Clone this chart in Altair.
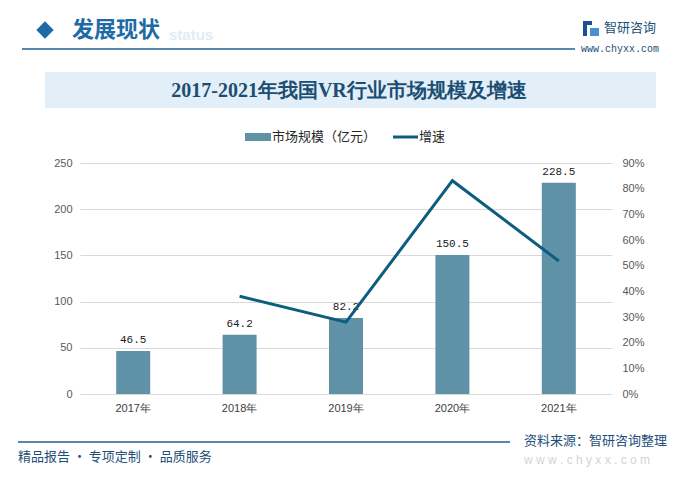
import altair as alt
import pandas as pd

years = ["2017年", "2018年", "2019年", "2020年", "2021年"]
market = [46.5, 64.2, 82.2, 150.5, 228.5]
growth = [None, 0.381, 0.280, 0.831, 0.518]
left_ticks = [0, 50, 100, 150, 200, 250]
right_ticks = [0, 0.1, 0.2, 0.3, 0.4, 0.5, 0.6, 0.7, 0.8, 0.9]

df = pd.DataFrame({"year": years, "market": market, "growth": growth})
df_line = df.dropna()

OX, OY = 80, 163  # plot origin on page
one = pd.DataFrame({"a": [0]})

def px(x):
    return alt.value(x - OX)

def py(y):
    return alt.value(y - OY)

xenc = alt.X("year:N", sort=years, title=None,
             scale=alt.Scale(paddingInner=0.0, paddingOuter=0.0),
             axis=alt.Axis(labelAngle=0, domain=False, ticks=False, labelPadding=8,
                           labelFont="Liberation Sans", labelFontSize=11, labelColor="#404040"))

yleft = alt.Y("market:Q", title=None,
              scale=alt.Scale(domain=[0, 250]),
              axis=alt.Axis(values=left_ticks, domain=False, ticks=False, labelPadding=8,
                            grid=True, gridColor="#d9d9d9", gridWidth=1,
                            labelFont="Liberation Sans", labelFontSize=11, labelColor="#595959"))

bars = alt.Chart(df).mark_bar(size=34, color="#5f91a7").encode(x=xenc, y=yleft)
labels = alt.Chart(df).mark_text(baseline="bottom", dy=-6, font="Liberation Mono",
                                 fontSize=11, color="#1a1a1a").encode(
    x=xenc, y=yleft, text=alt.Text("market:Q", format=".1f"))
left = alt.layer(bars, labels)

line = alt.Chart(df_line).mark_line(color="#0c5d7e", strokeWidth=3).encode(
    x=xenc,
    y=alt.Y("growth:Q", title=None, scale=alt.Scale(domain=[0, 0.9]),
            axis=alt.Axis(orient="right", values=right_ticks, format=".0%", domain=False,
                          ticks=False, grid=False, labelPadding=10,
                          labelFont="Liberation Sans", labelFontSize=11, labelColor="#595959")))

# decorations
band = alt.Chart(one).mark_rect(color="#e2eff8").encode(
    x=px(45), x2=px(656), y=py(72), y2=py(108))
title = alt.Chart(one).mark_text(font="Liberation Serif", fontSize=20, fontWeight="bold",
                                 color="#1b4e72", align="center", baseline="middle").encode(
    x=px(349), y=py(91), text=alt.value("2017-2021年我国VR行业市场规模及增速"))

diamond = alt.Chart(one).mark_point(shape="diamond", filled=True, color="#1d6aa5",
                                    size=300, opacity=1).encode(x=px(45), y=py(30))
status = alt.Chart(one).mark_text(font="Liberation Sans", fontSize=15, fontWeight="bold",
                                  color="#e0ecf6", align="left", baseline="middle").encode(
    x=px(169), y=py(35), text=alt.value("status"))
head = alt.Chart(one).mark_text(font="Noto Sans CJK SC", fontSize=22, fontWeight="bold",
                                color="#1d6aa5", align="left", baseline="middle").encode(
    x=px(72), y=py(30), text=alt.value("发展现状"))
head_rule = alt.Chart(one).mark_rule(color="#1f5f8f", strokeWidth=1.5).encode(
    x=px(22), x2=px(575), y=py(49))
logo_a = alt.Chart(one).mark_rect(color="#1d4f9a").encode(
    x=px(583), x2=px(592), y=py(21), y2=py(25))
logo_b = alt.Chart(one).mark_rect(color="#1d4f9a").encode(
    x=px(583), x2=px(587), y=py(25), y2=py(36))
logo_c = alt.Chart(one).mark_rect(color="#4a90d0").encode(
    x=px(590), x2=px(599), y=py(28), y2=py(36))
logo = alt.Chart(one).mark_text(font="Noto Sans CJK SC", fontSize=13, color="#1d4f7a",
                                align="left", baseline="middle").encode(
    x=px(604), y=py(28), text=alt.value("智研咨询"))
www = alt.Chart(one).mark_text(font="Liberation Mono", fontSize=10, color="#1d4f7a",
                               align="left", baseline="middle").encode(
    x=px(581), y=py(49), text=alt.value("www.chyxx.com"))

# legend
leg_rect = alt.Chart(one).mark_rect(color="#5f91a7").encode(
    x=px(245), x2=px(271), y=py(133), y2=py(141))
leg_t1 = alt.Chart(one).mark_text(font="Noto Sans CJK SC", fontSize=13, color="#262626",
                                  align="left", baseline="middle").encode(
    x=px(272), y=py(137), text=alt.value("市场规模（亿元）"))
leg_line = alt.Chart(one).mark_rule(color="#0c5d7e", strokeWidth=3).encode(
    x=px(393), x2=px(418), y=py(137))
leg_t2 = alt.Chart(one).mark_text(font="Noto Sans CJK SC", fontSize=13, color="#262626",
                                  align="left", baseline="middle").encode(
    x=px(419), y=py(137), text=alt.value("增速"))

# footer
foot_rule = alt.Chart(one).mark_rule(color="#1f5f8f", strokeWidth=1.5).encode(
    x=px(18), x2=px(510), y=py(442))
source = alt.Chart(one).mark_text(font="Noto Sans CJK SC", fontSize=13, color="#1d4f7a",
                                  align="right", baseline="middle").encode(
    x=px(667), y=py(441), text=alt.value("资料来源：智研咨询整理"))
slogan = alt.Chart(one).mark_text(font="Noto Sans CJK SC", fontSize=13, color="#1d4f7a",
                                  align="left", baseline="middle").encode(
    x=px(18), y=py(457), text=alt.value("精品报告 · 专项定制 · 品质服务"))
foot_www = alt.Chart(one).mark_text(font="Liberation Sans", fontSize=12, color="#d0d5da",
                                    align="left", baseline="middle").encode(
    x=px(524), y=py(460), text=alt.value("w w w . c h y x x . c o m"))

chart = alt.layer(
    band, title, diamond, status, head, head_rule, logo_a, logo_b, logo_c, logo, www,
    leg_rect, leg_t1, leg_line, leg_t2, foot_rule, source, slogan, foot_www,
    left, line
).resolve_scale(y="independent").properties(
    width=532, height=231,
    autosize=alt.AutoSizeParams(type="none"),
    padding={"left": 72, "top": 155, "right": 67, "bottom": 80},
    background="white",
).configure_view(stroke=None)

chart.save("out.html", embed_options={"renderer": "svg", "actions": False})
